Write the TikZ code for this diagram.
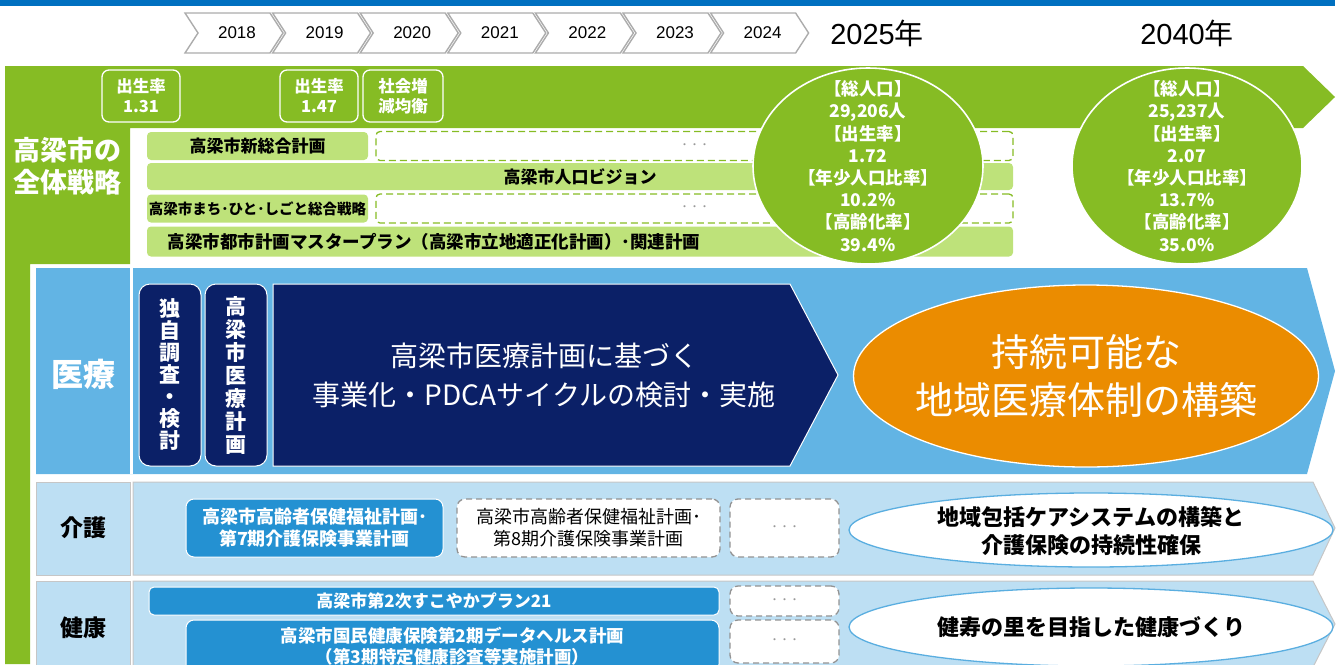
\documentclass[tikz,border=0pt]{standalone}
\usepackage{fontspec}
\setmainfont{Noto Sans CJK JP}
\newfontfamily\yearfont{Liberation Sans}
\usetikzlibrary{shapes.geometric}

\definecolor{topblue}{HTML}{0070C0}
\definecolor{grn}{HTML}{86BC24}
\definecolor{lgrn}{HTML}{BEE27A}
\definecolor{mblue}{HTML}{62B4E4}
\definecolor{navy}{HTML}{0B2067}
\definecolor{orng}{HTML}{EB8C00}
\definecolor{pblue}{HTML}{BDDFF3}
\definecolor{bblue}{HTML}{2491D2}
\definecolor{eblue}{HTML}{5AAEE0}

\newcommand\fsz[2]{\fontsize{#1}{#2}\selectfont}

\tikzset{
  yearchev/.style={draw=gray!65, fill=white, line width=1.4pt},
  yeartxt/.style={font=\yearfont\fsz{17}{17}},
  bandbox/.style={draw=white, line width=1.3pt, rounded corners=7pt, text=white,
    font=\bfseries\fsz{16.5}{20}, align=center, inner sep=0pt, minimum height=52pt},
  planbar/.style={fill=lgrn, rounded corners=4pt, font=\bfseries\fsz{17}{20}, inner sep=0pt},
  gdash/.style={draw=grn, dash pattern=on 7pt off 4pt, line width=1.3pt, rounded corners=4pt,
    inner sep=0pt},
  popcirc/.style={ellipse, fill=grn, draw=white, line width=1.6pt, minimum width=230pt,
    minimum height=196pt, inner sep=0pt},
  circtxt/.style={text=white, font=\bfseries\fsz{17.5}{22.2}, align=center, inner sep=0pt},
  vbox/.style={fill=navy, draw=white, line width=1pt, rounded corners=11pt, text=white,
    font=\bfseries\fsz{21}{23}, align=center, inner sep=0pt, minimum width=62pt, minimum height=182pt},
  bluebox/.style={fill=bblue, draw=white, line width=1pt, rounded corners=8pt, text=white,
    font=\bfseries\fsz{18}{22}, align=center, inner sep=0pt},
  gbox/.style={fill=white, draw=gray!85, dash pattern=on 6pt off 4pt, line width=1.3pt,
    rounded corners=8pt, inner sep=0pt, align=center, font=\fsz{18}{22}},
  goal/.style={ellipse, fill=white, draw=eblue, line width=1.3pt, inner sep=0pt, minimum width=484pt},
  goaltxt/.style={font=\bfseries\fsz{22}{28}, align=center, inner sep=0pt},
  dots/.style={text=gray!80, font=\fsz{10}{10}},
  sidelbl/.style={font=\bfseries\fsz{23}{26}},
}

\begin{document}
\begin{tikzpicture}[x=1pt,y=-1pt]
    \useasboundingbox (0,0) rectangle (1340,664);
    \clip (0,0) rectangle (1340,664);

    % --- top bar and years
    \fill[topblue] (0,0) rectangle (1335,6);
    \foreach \yr [count=\i from 0] in {2018,...,2024}{
      \pgfmathsetmacro\xl{185+87.6*\i}
      \draw[yearchev] (\xl,13) -- ++(85,0) -- ++(13,20) -- ++(-13,20) -- ++(-85,0) -- ++(13,-20) -- cycle;
      \node[yeartxt] (y\yr) at (\xl+52,33) {\yr};
    }
    \node[font=\fsz{29}{29}] (y2025) at (877,33) {{\yearfont 2025}年};
    \node[font=\fsz{29}{29}] (y2040) at (1187,33) {{\yearfont 2040}年};

    % --- overall strategy (green)
    \fill[grn] (5,66) -- (1303,66) -- (1335,97) -- (1303,128) -- (130,128) -- (130,264)
      -- (30,264) -- (30,664) -- (5,664) -- cycle;
    \node[text=white, font=\bfseries\fsz{27}{32}, align=left] (zentai) at (67,166) {高梁市の\\全体戦略};
    \node[bandbox, minimum width=78pt] (b131) at (141,96) {出生率\\1.31};
    \node[bandbox, minimum width=78pt] (b147) at (319,96) {出生率\\1.47};
    \node[bandbox, minimum width=80pt] (bshakai) at (403,96) {社会増\\減均衡};

    \node[planbar, minimum width=221pt, minimum height=28pt] (sogo) at (257.5,146) {高梁市新総合計画};
    \node[gdash, minimum width=637pt, minimum height=29pt] (sogod) at (694.5,146) {};
    \node[dots] (sogodt) at (694.5,146) {・・・};
    \node[planbar, minimum width=866pt, minimum height=27pt] (vision) at (580,176.5) {高梁市人口ビジョン};
    \node[planbar, minimum width=221pt, minimum height=28pt, font=\bfseries\fsz{14.5}{16}] (machi)
      at (257.5,208.5) {高梁市まち･ひと･しごと総合戦略};
    \node[gdash, minimum width=637pt, minimum height=29pt] (machid) at (694.5,208.5) {};
    \node[dots] (machidt) at (694.5,208.5) {・・・};
    \node[planbar, minimum width=866pt, minimum height=30pt] (toshi) at (580,241.5) {};
    \node[font=\bfseries\fsz{17.5}{20}] (toshit) at (434,241.5)
      {高梁市都市計画マスタープラン（高梁市立地適正化計画）･関連計画};

    \node[popcirc] (c2025) at (868,166) {};
    \node[circtxt] (c2025t) at (c2025)
      {【総人口】\\29,206人\\【出生率】\\1.72\\【年少人口比率】\\10.2\%\\【高齢化率】\\39.4\%};
    \node[popcirc] (c2040) at (1187,166) {};
    \node[circtxt] (c2040t) at (c2040)
      {【総人口】\\25,237人\\【出生率】\\2.07\\【年少人口比率】\\13.7\%\\【高齢化率】\\35.0\%};

    % --- medical (iryo)
    \fill[mblue] (36,268) -- (1307,268) -- (1335,371) -- (1307,474) -- (36,474) -- cycle;
    \draw[white, line width=2.5pt] (131.5,268) -- (131.5,474);
    \node[text=white, font=\bfseries\fsz{32}{32}] (iryo) at (83,374) {医療};
    \node[vbox, font=\bfseries\fsz{21}{22}] (dokuji) at (170,375) {独\\自\\調\\査\\・\\検\\討};
    \node[vbox] (iryokei) at (236,375) {高\\梁\\市\\医\\療\\計\\画};
    \draw[fill=navy, draw=white, line width=1pt] (273,284) -- (790,284) -- (838,375) -- (790,466)
      -- (273,466) -- cycle;
    \node[text=white, font=\fsz{28}{39}, align=center] (pdca) at (544,375)
      {高梁市医療計画に基づく\\事業化・PDCAサイクルの検討・実施};
    \node[ellipse, fill=orng, draw=white, line width=1.3pt, minimum width=465pt, minimum height=182pt,
      inner sep=0pt] (jizoku) at (1086,376) {};
    \node[text=white, font=\fsz{38}{48}, align=center] (jizokut) at (jizoku) {持続可能な\\地域医療体制の構築};

    % --- care (kaigo)
    \filldraw[fill=pblue, draw=gray!45, line width=1pt] (36,482) rectangle (130,575);
    \filldraw[fill=pblue, draw=gray!45, line width=1pt] (133,482) -- (1313,482) -- (1335,528)
      -- (1313,575) -- (133,575) -- cycle;
    \node[sidelbl] (kaigo) at (83,528) {介護};
    \node[bluebox, minimum width=257pt, minimum height=58pt] (kei7) at (314.5,528)
      {高梁市高齢者保健福祉計画･\\第7期介護保険事業計画};
    \node[gbox, minimum width=263pt, minimum height=58pt] (kei8) at (588.5,528)
      {高梁市高齢者保健福祉計画･\\第8期介護保険事業計画};
    \node[gbox, minimum width=109pt, minimum height=58pt, dots] (kaigod) at (784.5,528) {・・・};
    \node[goal, minimum height=74pt] (kaigog) at (1091,530) {};
    \node[goaltxt] (kaigogt) at (1091,531) {地域包括ケアシステムの構築と\\介護保険の持続性確保};

    % --- health (kenko)
    \filldraw[fill=pblue, draw=gray!45, line width=1pt] (36,581) rectangle (130,680);
    \filldraw[fill=pblue, draw=gray!45, line width=1pt] (133,581) -- (1313,581) -- (1335,624)
      -- (1313,667) -- (133,680) -- cycle;
    \node[sidelbl] (kenko) at (83,628) {健康};
    \node[bluebox, rounded corners=5pt, minimum width=570pt, minimum height=28pt, font=\bfseries\fsz{17}{20}]
      (sukoyaka) at (434,601) {高梁市第2次すこやかプラン21};
    \node[gbox, minimum width=109pt, minimum height=30pt, dots] (kenkod1) at (784.5,601) {・・・};
    \node[bluebox, minimum width=533pt, minimum height=52pt, font=\bfseries\fsz{17.5}{21}]
      (datah) at (452.5,646) {高梁市国民健康保険第2期データヘルス計画\\（第3期特定健康診査等実施計画）};
    \node[gbox, minimum width=109pt, minimum height=43pt, dots] (kenkod2) at (784.5,641.5) {・・・};
    \node[goal, minimum height=78pt] (kenkog) at (1091,627) {};
    \node[goaltxt] (kenkogt) at (kenkog) {健寿の里を目指した健康づくり};
\end{tikzpicture}
\end{document}
